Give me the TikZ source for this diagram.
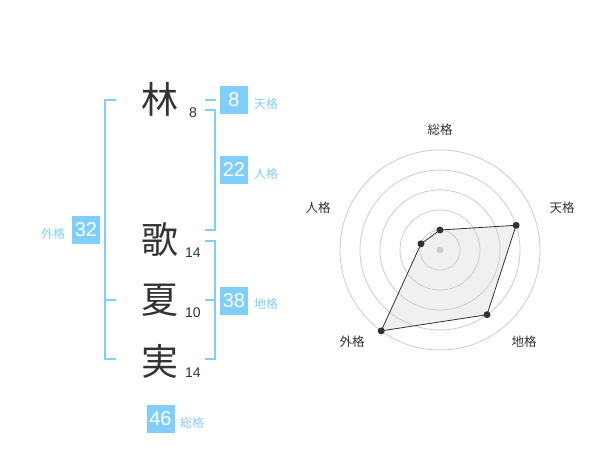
\documentclass[tikz,border=0pt]{standalone}
\usepackage{fontspec}
\setmainfont{Liberation Sans}
\newfontfamily\jpfont{Noto Sans CJK JP}
\definecolor{skyb}{RGB}{128,206,250}
\definecolor{ink}{RGB}{51,51,51}
\definecolor{ringc}{RGB}{204,204,204}
\definecolor{fillc}{RGB}{225,225,225}
\begin{document}
\begin{tikzpicture}[x=1pt,y=-1pt,
  kanji/.style={font=\jpfont\fontsize{37}{37}\selectfont,text=ink,inner sep=0pt},
  strk/.style={font=\fontsize{14}{14}\selectfont,text=ink,inner sep=0pt},
  valbox/.style={fill=skyb,text=white,minimum width=28pt,minimum height=28pt,inner sep=0pt,font=\fontsize{20}{20}\selectfont},
  kaku/.style={font=\jpfont\fontsize{12}{12}\selectfont,text=skyb,inner sep=0pt},
  brk/.style={draw=skyb,line width=2pt},
  rlab/.style={font=\jpfont\fontsize{12.5}{12.5}\selectfont,text=ink,inner sep=0pt},
  ring/.style={draw=ringc,line width=0.8pt},
  dot/.style={circle,fill=ink,inner sep=0pt,minimum size=7pt}]
\useasboundingbox (0,0) rectangle (600,470);
% kanji
\node[kanji] (k1) at (160,99) {林};
\node[kanji] (k2) at (160,240) {歌};
\node[kanji] (k3) at (160,300) {夏};
\node[kanji] (k4) at (160,361) {実};
\node[strk] (s1) at (193,113) {8};
\node[strk] (s2) at (193,253) {14};
\node[strk] (s3) at (193,313) {10};
\node[strk] (s4) at (193,373) {14};
% brackets
\draw[brk] (116,100) -- (105,100) -- (105,359) -- (116,359);
\draw[brk] (105,300) -- (116,300);
\draw[brk] (205,100) -- (216,100);
\draw[brk] (205,110) -- (215,110) -- (215,230) -- (205,230);
\draw[brk] (205,241) -- (215,241) -- (215,359) -- (205,359);
\draw[brk] (205,300) -- (215,300);
% value boxes
\node[valbox] (ten) at (234,100) {8};
\node[kaku] (tenl) at (266,104) {天格};
\node[valbox] (jin) at (234,170) {22};
\node[kaku] (jinl) at (266,174) {人格};
\node[valbox] (gai) at (86,230) {32};
\node[kaku] (gail) at (53,234) {外格};
\node[valbox] (chi) at (234,301) {38};
\node[kaku] (chil) at (266,304) {地格};
\node[valbox] (sou) at (160.5,419) {46};
\node[kaku] (soul) at (192,423) {総格};
% radar
\coordinate (C) at (440,250);
\coordinate (p1) at (440,230);
\coordinate (p2) at (516.1,225.3);
\coordinate (p3) at (487.0,314.7);
\coordinate (p4) at (381.2,330.9);
\coordinate (p5) at (421.0,243.8);
\fill[fillc,fill opacity=0.5] (p1) -- (p2) -- (p3) -- (p4) -- (p5) -- cycle;
\foreach \r in {20,40,60,80,100} \draw[ring] (C) circle (\r pt);
\draw[draw=ink,line width=0.8pt] (p1) -- (p2) -- (p3) -- (p4) -- (p5) -- cycle;
\foreach \p in {p1,p2,p3,p4,p5} \node[dot] at (\p) {};
\node[circle,fill=ringc,inner sep=0pt,minimum size=7pt] at (C) {};
\node[rlab] (r1) at (440,130) {総格};
\node[rlab] (r2) at (562,208) {天格};
\node[rlab] (r3) at (524,342) {地格};
\node[rlab] (r4) at (352,342) {外格};
\node[rlab] (r5) at (318,208) {人格};
\end{tikzpicture}
\end{document}
